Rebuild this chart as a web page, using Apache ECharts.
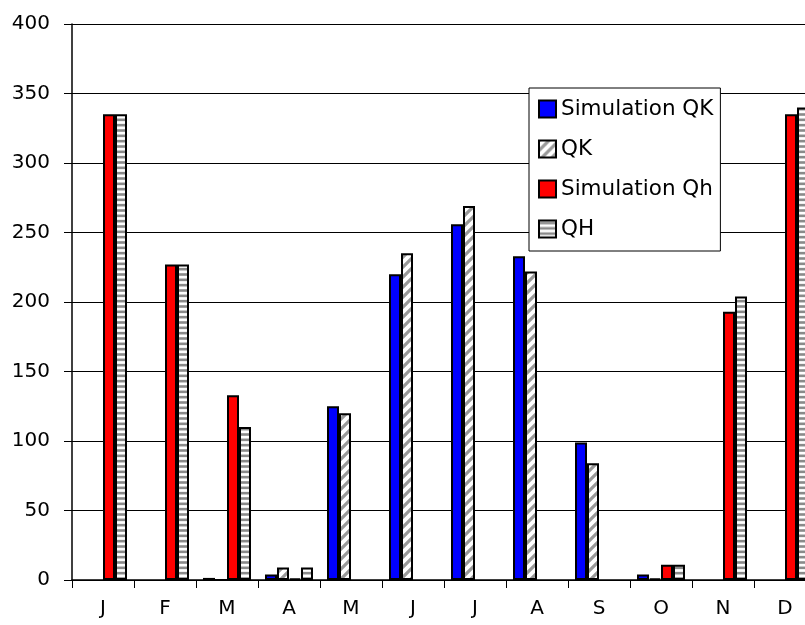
<!DOCTYPE html>
<html>
<head>
<meta charset="utf-8">
<script src="https://cdn.jsdelivr.net/npm/echarts@6/dist/echarts.min.js"></script>
<style>html,body{margin:0;padding:0;background:#fff}#c{width:805px;height:625px}</style>
</head>
<body>
<div id="c"></div>
<script>
const categories = ['J','F','M','A','M','J','J','A','S','O','N','D'];
const seriesNames = ['Simulation QK','QK','Simulation Qh','QH'];
const simQK = [null, null, 1.5, 4, 125, 220, 256, 233, 99, 4, null, null];
const QK    = [null, null, 0, 9, 120, 235, 269, 222, 84, 1, null, null];
const simQh = [335, 227, 133, 1, null, null, null, null, null, 11, 193, 335];
const QH    = [335, 227, 110, 9, null, null, null, null, null, 11, 204, 340];
const yTicks = {min: 0, max: 400, interval: 50};

function diagPattern() {
  const c = document.createElement('canvas');
  c.width = 10; c.height = 10;
  const g = c.getContext('2d');
  g.fillStyle = '#fff'; g.fillRect(0, 0, 10, 10);
  g.strokeStyle = '#999'; g.lineWidth = 3.2;
  g.beginPath();
  g.moveTo(-5, 5); g.lineTo(5, -5);
  g.moveTo(0, 10); g.lineTo(10, 0);
  g.moveTo(5, 15); g.lineTo(15, 5);
  g.stroke();
  return c;
}
function hStripePattern() {
  const c = document.createElement('canvas');
  c.width = 8; c.height = 16;
  const g = c.getContext('2d');
  g.fillStyle = '#fff'; g.fillRect(0, 0, 8, 16);
  g.fillStyle = '#8a8a8a';
  [0, 16/3, 32/3].forEach(y => g.fillRect(0, y + 1.2, 8, 2.6));
  return c;
}

const font = 'DejaVu Sans';
const chart = echarts.init(document.getElementById('c'), null, {renderer: 'canvas'});
const border = {borderColor: '#000', borderWidth: 2};
chart.setOption({
  animation: false,
  backgroundColor: '#fff',
  grid: {left: 72, top: 24, width: 744, bottom: 45, containLabel: false, outerBoundsMode: 'none'},
  legend: {
    orient: 'vertical', left: 529, top: 88,
    padding: [10, 7, 11, 9],
    backgroundColor: '#fff', borderColor: '#000', borderWidth: 1,
    itemWidth: 17, itemHeight: 17, itemGap: 18,
    icon: 'rect',
    textStyle: {fontFamily: font, fontSize: 21.5, color: '#000', lineHeight: 22},
    data: seriesNames
  },
  xAxis: {
    type: 'category', data: categories,
    axisLine: {lineStyle: {color: '#000', width: 1.5}},
    axisTick: {show: true, length: 8, lineStyle: {color: '#000'}},
    axisLabel: {fontFamily: font, fontSize: 20, color: '#000', margin: 19}
  },
  yAxis: {
    type: 'value', min: yTicks.min, max: yTicks.max, interval: yTicks.interval,
    axisLine: {show: true, lineStyle: {color: '#000', width: 1.5}},
    axisTick: {show: true, length: 8, lineStyle: {color: '#000'}},
    axisLabel: {fontFamily: font, fontSize: 20, color: '#000', margin: 22},
    splitLine: {show: true, lineStyle: {color: '#000', width: 1}}
  },
  series: [
    {name: seriesNames[0], type: 'bar', data: simQK, barGap: '0%', barCategoryGap: '22.6%',
     itemStyle: Object.assign({color: '#0000ff'}, border)},
    {name: seriesNames[1], type: 'bar', data: QK, barGap: '0%', barCategoryGap: '22.6%',
     itemStyle: Object.assign({color: {image: diagPattern(), repeat: 'repeat'}}, border)},
    {name: seriesNames[2], type: 'bar', data: simQh, barGap: '0%', barCategoryGap: '22.6%',
     itemStyle: Object.assign({color: '#ff0000'}, border)},
    {name: seriesNames[3], type: 'bar', data: QH, barGap: '0%', barCategoryGap: '22.6%',
     itemStyle: Object.assign({color: {image: hStripePattern(), repeat: 'repeat'}}, border)}
  ]
});
</script>
</body>
</html>
